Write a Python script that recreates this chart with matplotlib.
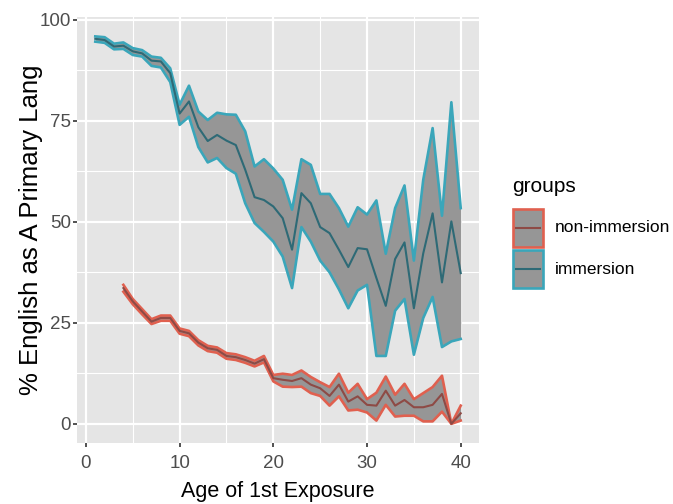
import matplotlib
matplotlib.use("Agg")
import matplotlib.pyplot as plt
from matplotlib.patches import Rectangle
from matplotlib.lines import Line2D
import numpy as np

plt.rcParams['font.family'] = ['Liberation Sans', 'DejaVu Sans']

# ---- data ----
imm_age = list(range(1, 41))
imm_mean = [95.3, 95.0, 93.4, 93.6, 92.2, 91.7, 89.9, 89.7, 86.8, 76.8,
            79.8, 73.4, 70.0, 71.5, 70.1, 69.0, 62.9, 56.1, 55.4, 53.8,
            50.9, 43.1, 57.1, 54.6, 48.7, 47.2, 43.1, 38.8, 43.5, 43.2,
            36.1, 29.2, 40.8, 44.9, 28.6, 42.2, 52.1, 35.0, 50.1, 37.3]
imm_high = [95.9, 95.7, 94.1, 94.4, 93.0, 92.5, 90.9, 90.6, 88.0, 79.0,
            83.7, 77.3, 75.2, 77.0, 76.6, 76.5, 72.4, 63.7, 65.5, 63.2,
            60.4, 53.0, 65.5, 64.1, 56.9, 56.9, 53.4, 48.8, 53.6, 51.8,
            55.3, 42.1, 53.4, 59.0, 40.4, 60.4, 73.2, 51.5, 79.6, 53.4]
imm_low = [94.6, 94.3, 92.7, 92.8, 91.3, 90.9, 88.6, 88.2, 84.6, 74.0,
           76.0, 68.5, 64.7, 65.8, 63.3, 61.9, 54.6, 49.7, 47.5, 45.1,
           41.4, 33.6, 48.7, 45.1, 40.4, 37.5, 33.3, 28.6, 33.0, 34.4,
           16.8, 16.8, 28.0, 30.9, 17.1, 26.2, 31.4, 19.0, 20.4, 21.0]

non_age = list(range(4, 41))
non_mean = [33.6, 30.3, 27.8, 25.3, 26.2, 26.2, 23.0, 22.4, 20.1, 18.7,
            18.3, 16.8, 16.5, 15.8, 14.9, 16.0, 11.3, 10.9, 10.6, 11.3,
            9.7, 8.8, 6.9, 9.7, 5.5, 6.8, 4.7, 4.5, 8.2, 4.5,
            5.9, 4.1, 4.1, 4.7, 7.4, 0.0, 2.6]
non_high = [34.4, 30.9, 28.4, 25.9, 26.8, 26.8, 23.6, 23.0, 20.7, 19.3,
            18.9, 17.5, 17.2, 16.5, 15.6, 16.8, 12.1, 12.4, 12.1, 13.2,
            11.6, 10.3, 9.1, 12.4, 7.7, 9.9, 6.1, 7.7, 11.7, 7.2,
            9.9, 6.1, 7.6, 9.1, 11.9, 0.0, 4.5]
non_low = [32.7, 29.6, 27.1, 24.7, 25.5, 25.5, 22.3, 21.7, 19.4, 18.0,
           17.6, 16.1, 15.8, 15.1, 14.2, 15.2, 10.5, 9.2, 9.1, 9.2,
           7.6, 6.9, 4.5, 6.8, 3.3, 3.5, 2.8, 0.8, 4.7, 1.8,
           2.0, 2.0, 0.6, 0.6, 3.0, 0.0, 0.8]

groups = ['non-immersion', 'immersion']
edge_cols = ['#E0604F', '#3AA6BA']
line_cols = ['#8E4A45', '#2E6A76']
fill_col = '#969696'

x_ticks = [0, 10, 20, 30, 40]
y_ticks = [0, 25, 50, 75, 100]

W, H = 673, 504
fig = plt.figure(figsize=(W / 100, H / 100), dpi=100)
fig.patch.set_facecolor('white')

def fx(px):
    return px / W

def fy(py):
    return 1 - py / H

ax = fig.add_axes([fx(77), fy(443), fx(479) - fx(77), fy(17) - fy(443)])
ax.set_facecolor('#E5E5E5')
for s in ax.spines.values():
    s.set_visible(False)

ax.set_xlim(-0.95, 41.95)
ax.set_ylim(-4.75, 100.7)

ax.set_xticks(x_ticks)
ax.set_yticks(y_ticks)
ax.set_xticks([5, 15, 25, 35], minor=True)
ax.set_yticks([12.5, 37.5, 62.5, 87.5], minor=True)
ax.grid(which='major', color='white', linewidth=1.6)
ax.grid(which='minor', color='white', linewidth=0.8)
ax.set_axisbelow(True)
ax.tick_params(which='major', length=3, width=1.2, color='#333333',
               labelsize=13.5, labelcolor='#4D4D4D')
ax.tick_params(axis='y', which='major', pad=1.5)
ax.tick_params(axis='x', which='major', pad=5.5)
ax.tick_params(which='minor', length=0)

series = [
    (non_age, non_mean, non_low, non_high),
    (imm_age, imm_mean, imm_low, imm_high),
]
for (a, m, lo, hi), ec, lc in zip(series, edge_cols, line_cols):
    ax.fill_between(a, lo, hi, color=fill_col, linewidth=0, zorder=2)
    ax.plot(a, hi, color=ec, linewidth=1.9, zorder=3)
    ax.plot(a, lo, color=ec, linewidth=1.9, zorder=3)
    ax.plot(a, m, color=lc, linewidth=1.5, zorder=4)

fig.text(fx(278), fy(492), 'Age of 1st Exposure', ha='center', va='center',
         fontsize=15.5, color='black')
fig.text(fx(31), fy(230), '% English as A Primary Lang', ha='center',
         va='center', rotation=90, fontsize=18.5, color='black')

# legend
fig.text(fx(512), fy(186), 'groups', ha='left', va='center', fontsize=15)
key_tops = [209, 250]
for g, ec, lc, top in zip(groups, edge_cols, line_cols, key_tops):
    r = Rectangle((fx(513), fy(top + 38)), fx(30), fy(top) - fy(top + 38),
                  transform=fig.transFigure, facecolor=fill_col,
                  edgecolor=ec, linewidth=1.9)
    fig.patches.append(r)
    cy = fy(top + 19)
    fig.lines.append(Line2D([fx(516), fx(540)], [cy, cy], color=lc,
                            linewidth=1.5, transform=fig.transFigure))
    fig.text(fx(555), cy, g, ha='left', va='center', fontsize=12.5)

fig.savefig('out.png', dpi=100)
